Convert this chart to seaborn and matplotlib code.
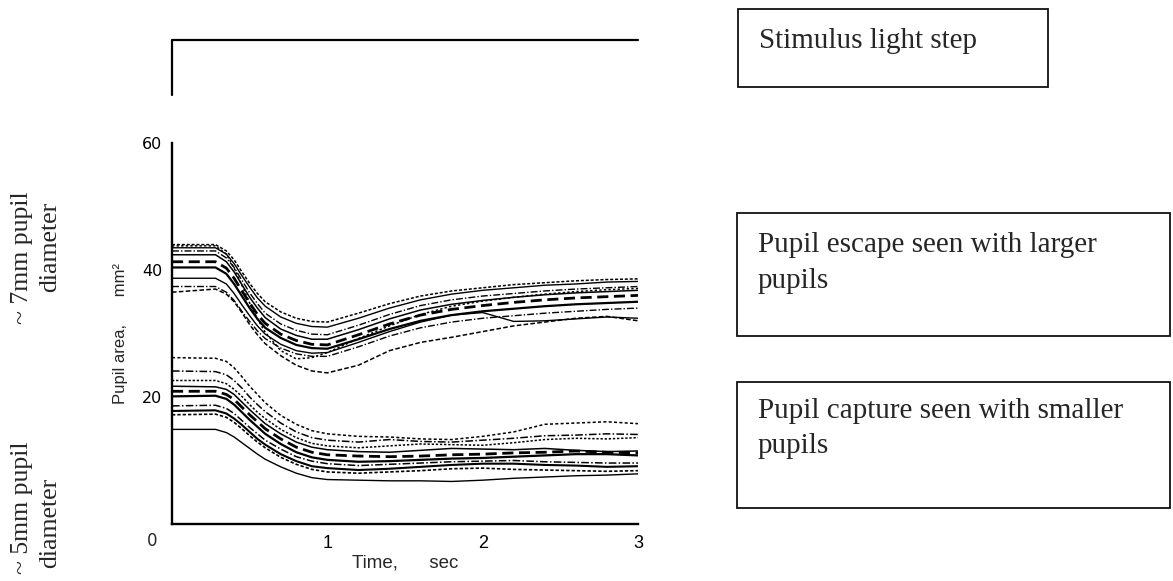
import matplotlib
matplotlib.use("Agg")
import matplotlib.pyplot as plt
from matplotlib.patches import Rectangle
import seaborn as sns

# ---------------------------------------------------------------------------
# Pupil area traces (mm^2) sampled over time (s) after a light step at t = 0
# ---------------------------------------------------------------------------
time_s = [0, 0.28, 0.35, 0.4, 0.45, 0.5, 0.55, 0.6, 0.7, 0.8, 0.9, 1.0,
          1.2, 1.4, 1.6, 1.8, 2.0, 2.2, 2.4, 2.6, 2.8, 3.0]

# ~7 mm pupils: constriction followed by escape (redilation)
large_a = [44.0, 44.0, 43.0, 41.6, 39.7, 37.9, 36.3, 35.0, 33.4, 32.4, 31.9, 31.8,
           33.2, 34.7, 35.9, 36.7, 37.2, 37.7, 38.0, 38.3, 38.5, 38.6]
large_b = [43.5, 43.5, 42.5, 41.0, 39.1, 37.3, 35.6, 34.3, 32.6, 31.6, 31.1, 31.0,
           32.4, 34.0, 35.3, 36.2, 36.8, 37.2, 37.6, 37.8, 38.1, 38.2]
large_c = [43.0, 43.0, 41.9, 40.4, 38.4, 36.4, 34.7, 33.2, 31.5, 30.5, 29.9, 29.8,
           31.3, 33.0, 34.4, 35.3, 35.9, 36.3, 36.7, 37.0, 37.2, 37.4]
large_d = [42.4, 42.4, 41.3, 39.7, 37.7, 35.7, 34.0, 32.5, 30.7, 29.7, 29.1, 29.1,
           30.6, 32.3, 33.7, 34.6, 35.2, 35.7, 36.1, 36.4, 36.6, 36.8]
large_e = [41.3, 41.3, 40.3, 38.7, 36.7, 34.8, 33.0, 31.6, 29.9, 28.9, 28.3, 28.2,
           29.8, 31.5, 32.9, 33.8, 34.4, 34.9, 35.3, 35.6, 35.8, 36.0]
large_f = [40.4, 40.4, 39.4, 37.8, 35.9, 34.0, 32.3, 30.9, 29.3, 28.2, 27.7, 27.6,
           29.1, 30.7, 32.0, 32.9, 33.5, 33.9, 34.3, 34.6, 34.8, 35.0]
large_g = [38.7, 38.7, 37.8, 36.3, 34.5, 32.8, 31.2, 29.9, 28.3, 27.3, 26.9, 27.0,
           28.6, 30.3, 31.8, 32.9, 33.3, 31.9, 32.0, 32.3, 32.6, 32.4]
large_h = [37.4, 37.4, 36.5, 35.2, 33.5, 31.9, 30.4, 29.2, 27.7, 26.8, 26.4, 26.4,
           27.9, 29.6, 30.9, 31.8, 32.4, 32.8, 33.2, 33.5, 33.8, 34.0]
large_i = [36.5, 37.0, 36.2, 35.0, 33.3, 31.4, 29.8, 28.4, 26.5, 25.0, 24.1, 23.8,
           25.0, 27.3, 28.6, 29.4, 30.3, 31.2, 31.8, 32.4, 32.7, 32.0]
large_j = [43.8, 43.8, 42.5, 40.3, 37.6, 34.8, 32.3, 30.2, 27.3, 26.0, 26.2, 27.0,
           29.2, 31.2, 33.0, 34.3, 35.1, 35.7, 36.2, 36.6, 36.9, 37.1]

# ~5 mm pupils: sustained constriction (capture)
small_a = [26.2, 26.1, 25.6, 24.6, 23.2, 21.7, 20.4, 19.1, 17.1, 15.7, 14.7, 14.2,
           13.8, 13.7, 13.4, 13.3, 13.8, 14.5, 15.7, 15.9, 16.1, 15.8]
small_b = [24.1, 24.0, 23.5, 22.6, 21.4, 20.0, 18.8, 17.7, 15.9, 14.5, 13.6, 13.2,
           12.9, 13.3, 13.0, 12.9, 13.2, 13.5, 13.9, 14.0, 14.2, 14.1]
small_c = [22.6, 22.6, 22.1, 21.2, 20.1, 18.8, 17.6, 16.6, 14.9, 13.6, 12.7, 12.3,
           12.0, 12.3, 12.6, 12.5, 12.4, 12.8, 13.3, 13.5, 13.4, 13.6]
small_d = [21.7, 21.6, 21.2, 20.4, 19.2, 18.0, 16.9, 15.8, 14.2, 12.9, 12.1, 11.7,
           11.4, 11.3, 11.6, 11.9, 11.8, 11.7, 11.9, 11.6, 11.4, 11.5]
small_e = [20.9, 20.9, 20.4, 19.6, 18.4, 17.2, 16.1, 15.0, 13.4, 12.1, 11.3, 10.9,
           10.7, 10.6, 10.7, 10.9, 11.0, 11.2, 11.3, 11.5, 11.3, 11.2]
small_f = [20.1, 20.2, 19.7, 18.8, 17.6, 16.4, 15.3, 14.2, 12.6, 11.3, 10.5, 10.1,
           9.8, 9.9, 10.1, 10.3, 10.4, 10.6, 10.8, 11.0, 11.0, 10.8]
small_g = [18.6, 18.7, 18.2, 17.4, 16.3, 15.2, 14.2, 13.2, 11.8, 10.6, 9.9, 9.5,
           9.2, 9.4, 9.6, 9.8, 9.9, 10.0, 9.8, 9.7, 9.6, 9.6]
small_h = [17.8, 17.9, 17.4, 16.6, 15.6, 14.5, 13.4, 12.5, 11.0, 9.9, 9.1, 8.8,
           8.5, 8.7, 9.0, 9.3, 9.5, 9.5, 9.3, 9.2, 9.0, 9.1]
small_i = [17.2, 17.3, 16.8, 16.0, 15.0, 13.9, 12.9, 12.0, 10.5, 9.4, 8.6, 8.2,
           8.0, 8.2, 8.4, 8.7, 8.8, 8.6, 8.5, 8.4, 8.3, 8.4]
small_j = [14.9, 14.9, 14.4, 13.7, 12.8, 11.9, 11.0, 10.2, 9.0, 8.0, 7.3, 7.0,
           6.9, 6.8, 6.8, 6.7, 6.9, 7.2, 7.4, 7.6, 7.7, 7.9]

# light stimulus: off before t = 0, on afterwards
stim_time = [0, 0, 3]
stim_level = [0, 1, 1]

x_ticks = [1, 2, 3]
y_ticks = [20, 40, 60]

large_traces = [large_a, large_b, large_c, large_d, large_e,
                large_f, large_g, large_h, large_i, large_j]
small_traces = [small_a, small_b, small_c, small_d, small_e,
                small_f, small_g, small_h, small_i, small_j]

# line appearance for each trace (style, width)
large_styles = [((0, (2, 1.2)), 1.1), ("-", 1.0), ((0, (5, 1.5, 1, 1.5)), 1.0),
                ("-", 1.1), ((0, (4, 2)), 2.0), ("-", 1.6), ("-", 1.0),
                ((0, (5, 1.5, 1, 1.5)), 1.0), ((0, (3, 1.5)), 1.1), ((0, (1.5, 1.5)), 1.1)]
small_styles = [((0, (2, 1.5)), 1.1), ((0, (5, 1.5, 1, 1.5)), 1.1), ((0, (1.5, 1.2)), 1.1),
                ("-", 1.1), ((0, (4, 2)), 2.0), ("-", 1.6), ((0, (5, 1.5, 1, 1.5)), 1.1),
                ("-", 1.5), ((0, (2, 1.2)), 1.2), ("-", 1.0)]

sns.set_theme(style="white")
plt.rcParams["font.family"] = ["Liberation Sans", "DejaVu Sans"]

W, H = 1173, 581
fig = plt.figure(figsize=(W / 100, H / 100), dpi=100)


def fx(px):
    return px / W


def fy(py):
    return 1 - py / H


# ---- main trace panel ----
ax = fig.add_axes([fx(172), fy(524), (638 - 172) / W, (524 - 143) / H])
for trace, (ls, lw) in zip(large_traces + small_traces, large_styles + small_styles):
    sns.lineplot(x=time_s, y=trace, ax=ax, color="black", linestyle=ls,
                 linewidth=lw, estimator=None, sort=False, legend=False)

ax.set_xlim(0, 3)
ax.set_ylim(0, 60)
ax.set_xticks(x_ticks)
ax.set_yticks(y_ticks)
ax.set_xticklabels([str(v) for v in x_ticks], fontsize=13)
ax.set_yticklabels([str(v) for v in y_ticks], fontsize=11.5, family="DejaVu Sans")
ax.tick_params(axis="x", direction="in", length=8.5, width=1.4, pad=8, colors="black")
ax.tick_params(axis="y", direction="in", length=11.5, width=1.4, pad=7, colors="black")
for side in ("top", "right"):
    ax.spines[side].set_visible(False)
for side in ("left", "bottom"):
    ax.spines[side].set_linewidth(1.7)
    ax.spines[side].set_color("black")
ax.set_facecolor("white")
ax.set_xlabel("Time,      sec", fontsize=13.5, labelpad=2)
ax.set_ylabel("Pupil area,      mm²", fontsize=12, labelpad=10)
ax.annotate("0", xy=(0, 0), xytext=(-14, -12), textcoords="offset points",
            fontsize=12, family="DejaVu Sans", ha="center", va="center")

# ---- stimulus step trace above the panel ----
ax_stim = fig.add_axes([fx(172), fy(95), (638 - 172) / W, (95 - 40) / H])
sns.lineplot(x=stim_time, y=stim_level, ax=ax_stim, color="black", linewidth=1.6,
             estimator=None, sort=False, legend=False)
for ln in ax_stim.lines:
    ln.set_clip_on(False)
ax_stim.set_xlim(0, 3)
ax_stim.set_ylim(0, 1)
ax_stim.axis("off")

# ---- annotation boxes ----
serif = "Liberation Serif"


def box(x0, y0, x1, y1):
    fig.add_artist(Rectangle((fx(x0), fy(y1)), (x1 - x0) / W, (y1 - y0) / H,
                             transform=fig.transFigure, fill=False,
                             edgecolor="#111111", linewidth=1.3))


def line_text(x, y, s, size=21):
    fig.text(fx(x), fy(y), s, family=serif, fontsize=size, ha="left", va="baseline")


box(738, 9, 1048, 87)
line_text(759, 48, "Stimulus light step")

box(737, 213, 1170, 336)
line_text(758, 252, "Pupil escape seen with larger")
line_text(758, 288, "pupils")

box(737, 382, 1170, 508)
line_text(758, 418, "Pupil capture seen with smaller")
line_text(758, 453, "pupils")

# ---- pupil size labels on the left ----
fig.text(fx(22), fy(258), "~ 7mm pupil", family=serif, fontsize=18.5,
         rotation=90, ha="center", va="center")
fig.text(fx(50), fy(247), "diameter", family=serif, fontsize=18.5,
         rotation=90, ha="center", va="center")
fig.text(fx(22), fy(508), "~ 5mm pupil", family=serif, fontsize=18.5,
         rotation=90, ha="center", va="center")
fig.text(fx(50), fy(523), "diameter", family=serif, fontsize=18.5,
         rotation=90, ha="center", va="center")

fig.savefig("out.png", dpi=100, facecolor="white")
